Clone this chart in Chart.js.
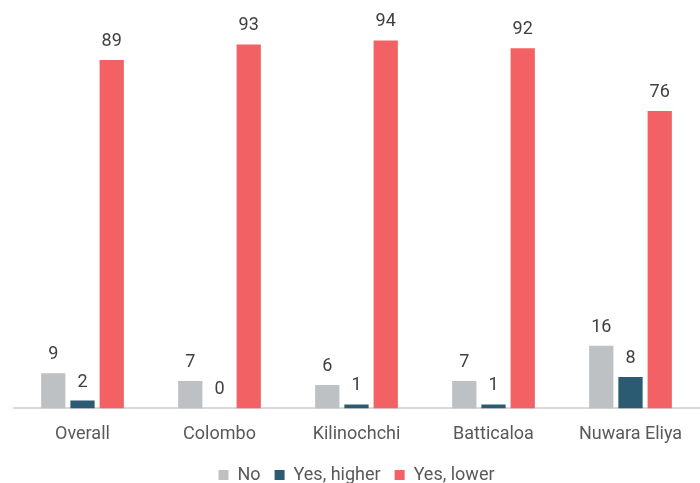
<!DOCTYPE html>
<html>
<head>
<meta charset="utf-8">
<script src="https://cdn.jsdelivr.net/npm/chart.js@4/dist/chart.umd.min.js"></script>
<style>
  html, body { margin: 0; padding: 0; background: #fff; }
  #wrap { width: 700px; height: 483px; }
</style>
</head>
<body>
<div id="wrap"><canvas id="myChart"></canvas></div>
<script>
const regions = ['Overall', 'Colombo', 'Kilinochchi', 'Batticaloa', 'Nuwara Eliya'];
const noValues = [9, 7, 6, 7, 16];
const higherValues = [2, 0, 1, 1, 8];
const lowerValues = [89, 93, 94, 92, 76];

// writes each bar's value just above it
const valueLabels = {
  id: 'valueLabels',
  afterDatasetsDraw(chart) {
    const c = chart.ctx;
    c.save();
    c.font = '18px Roboto';
    c.fillStyle = '#404040';
    c.textAlign = 'center';
    c.textBaseline = 'alphabetic';
    chart.data.datasets.forEach((ds, i) => {
      chart.getDatasetMeta(i).data.forEach((bar, j) => {
        c.fillText(ds.data[j], bar.x, bar.y - 14);
      });
    });
    c.restore();
  }
};

const ctx = document.getElementById('myChart');

new Chart(ctx, {
  type: 'bar',
  data: {
    labels: regions,
    datasets: [{
      label: 'No',
      data: noValues,
      backgroundColor: '#bdc1c4'
    }, {
      label: 'Yes, higher',
      data: higherValues,
      backgroundColor: '#2b5a73'
    }, {
      label: 'Yes, lower',
      data: lowerValues,
      backgroundColor: '#f26163'
    }]
  },
  options: {
    responsive: true,
    maintainAspectRatio: false,
    animation: false,
    datasets: {
      bar: { categoryPercentage: 0.64, barPercentage: 0.83 }
    },
    layout: { padding: { left: 14, right: 1, top: 17, bottom: -11 } },
    scales: {
      x: {
        grid: { display: false },
        border: { color: '#d9d9d9', width: 2 },
        ticks: { color: '#595959', font: { family: 'Roboto', size: 18 }, padding: 7 }
      },
      y: {
        display: false,
        min: 0,
        max: 100
      }
    },
    plugins: {
      legend: {
        position: 'bottom',
        labels: {
          boxWidth: 10,
          boxHeight: 10,
          padding: 14,
          color: '#595959',
          font: { family: 'Roboto', size: 18 }
        }
      },
      tooltip: { enabled: false }
    }
  },
  plugins: [valueLabels]
});
</script>
</body>
</html>
